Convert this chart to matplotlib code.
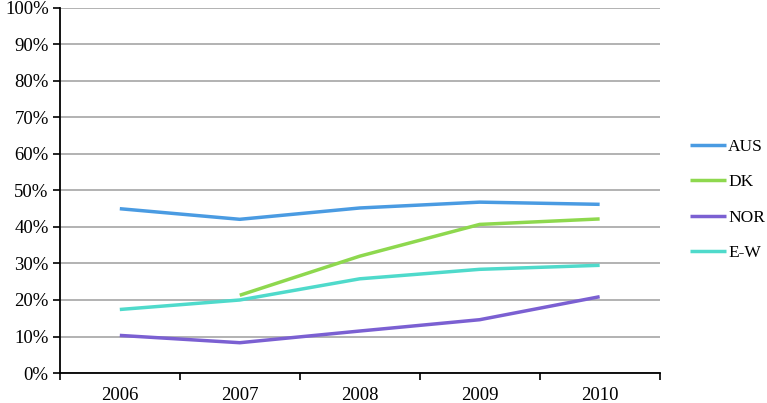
import numpy as np
import matplotlib.pyplot as plt
from matplotlib.ticker import PercentFormatter, FixedLocator

years = ['2006', '2007', '2008', '2009', '2010']
aus = [45.0, 42.1, 45.2, 46.8, 46.2]
dk = [np.nan, 21.3, 32.0, 40.7, 42.2]
nor = [10.3, 8.3, 11.5, 14.6, 20.9]
ew = [17.4, 20.0, 25.8, 28.4, 29.5]

series = [('AUS', aus, '#4a9be2'), ('DK', dk, '#8ed84e'),
          ('NOR', nor, '#7b60d2'), ('E-W', ew, '#4fdacb')]

plt.rcParams['font.family'] = ['Liberation Serif', 'DejaVu Serif']

fig = plt.figure(figsize=(7.67, 4.03), dpi=100)
ax = fig.add_axes([0.078, 0.0744, 0.782, 0.906])

x = np.arange(len(years))
for name, vals, col in series:
    ax.plot(x, vals, color=col, lw=2.5, label=name, solid_capstyle='butt')

ax.set_ylim(0, 100)
ax.set_xlim(-0.5, len(years) - 0.5)
ax.yaxis.set_major_locator(FixedLocator(np.arange(0, 101, 10)))
ax.yaxis.set_major_formatter(PercentFormatter(decimals=0))
ax.yaxis.grid(True, color='#a6a6a6', lw=1.2)
ax.set_axisbelow(True)

ax.set_xticks(x)
ax.set_xticklabels(years)
ax.set_xticks(np.arange(-0.5, len(years)), minor=True)
ax.tick_params(axis='x', which='major', length=0, pad=10, labelsize=13.5)
ax.tick_params(axis='x', which='minor', length=5, width=1.2)
ax.tick_params(axis='y', length=5, width=1.2, labelsize=13.5, pad=3)

for s in ['top', 'right']:
    ax.spines[s].set_visible(False)
ax.spines['left'].set_linewidth(1.3)
ax.spines['bottom'].set_linewidth(1.3)

fig.legend(loc='upper left', bbox_to_anchor=(0.900, 0.655), frameon=False,
           fontsize=12.5, handlelength=2.05, handletextpad=0.12, labelspacing=1.1,
           borderpad=0, borderaxespad=0)

fig.savefig('out.png', dpi=100)
